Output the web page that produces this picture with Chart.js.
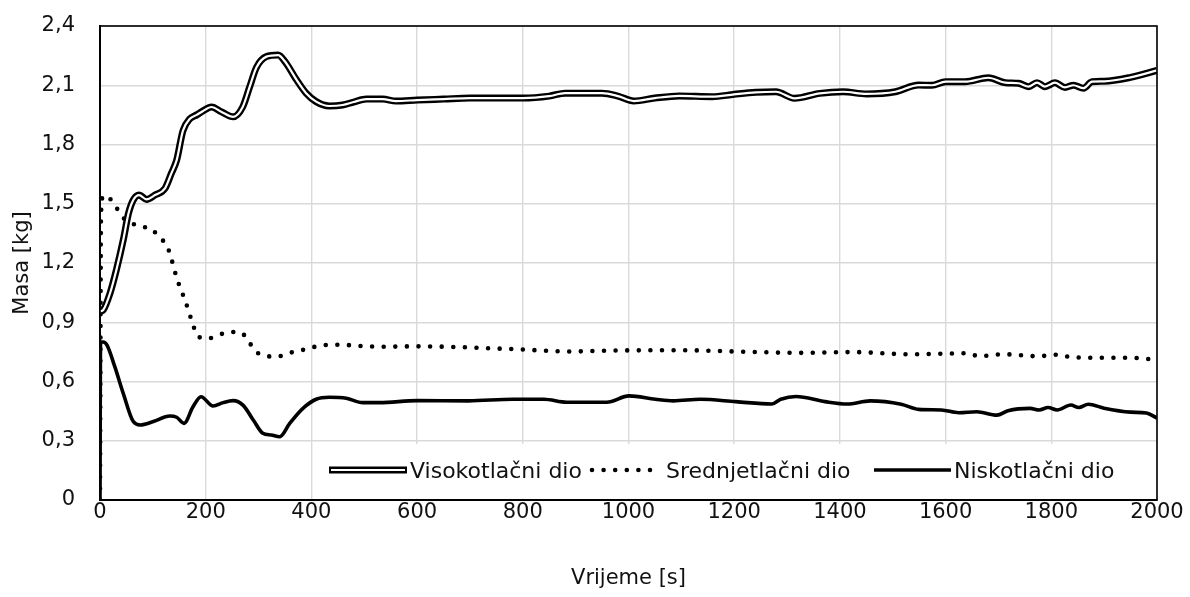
<!DOCTYPE html>
<html><head><meta charset="utf-8">
<script src="https://cdn.jsdelivr.net/npm/chart.js@4"></script>
<style>html,body{margin:0;padding:0;background:#fff;} #wrap{width:1190px;height:597px;}</style>
</head><body><div id="wrap"><canvas id="c" width="1190" height="597"></canvas></div>
<script>
// ---- data ----
const timeVisoko = [0, 6, 19, 31, 44, 54, 63, 74, 88, 104, 123, 135, 145, 157, 170, 183, 195, 211, 230, 252, 270, 283, 296, 315, 337, 350, 372, 390, 409, 434, 459, 480, 504, 535, 560, 600, 650, 700, 750, 800, 850, 880, 950, 980, 1010, 1050, 1096, 1158, 1200, 1241, 1279, 1314, 1362, 1406, 1450, 1505, 1549, 1574, 1600, 1637, 1681, 1713, 1738, 1757, 1773, 1788, 1807, 1826, 1842, 1861, 1877, 1900, 1950, 2000];
const visoko = [0.955, 0.962, 1.047, 1.165, 1.316, 1.452, 1.519, 1.544, 1.522, 1.544, 1.578, 1.654, 1.72, 1.87, 1.93, 1.95, 1.97, 1.99, 1.965, 1.94, 1.99, 2.09, 2.19, 2.245, 2.253, 2.22, 2.127, 2.06, 2.017, 1.995, 2.0, 2.015, 2.03, 2.03, 2.02, 2.025, 2.03, 2.035, 2.035, 2.035, 2.045, 2.06, 2.06, 2.045, 2.02, 2.035, 2.046, 2.042, 2.054, 2.064, 2.067, 2.034, 2.059, 2.067, 2.056, 2.067, 2.101, 2.10, 2.118, 2.118, 2.138, 2.113, 2.11, 2.093, 2.113, 2.093, 2.113, 2.089, 2.10, 2.085, 2.118, 2.12, 2.14, 2.175];

const timeSrednje = [0, 2, 6, 16, 30, 42, 58, 79, 98, 112, 126, 134, 140, 146, 154, 162, 169, 176, 184, 203, 224, 246, 267, 282, 294, 314, 335, 357, 378, 399, 421, 443, 465, 487, 531, 600, 781, 891, 975, 1110, 1200, 1330, 1423, 1532, 1642, 1663, 1710, 1773, 1815, 1836, 1900, 1950, 2000];
const srednje = [0, 1.45, 1.54, 1.533, 1.485, 1.434, 1.404, 1.384, 1.371, 1.33, 1.29, 1.232, 1.173, 1.117, 1.06, 1.003, 0.945, 0.888, 0.832, 0.817, 0.835, 0.851, 0.847, 0.80, 0.754, 0.729, 0.726, 0.744, 0.756, 0.771, 0.783, 0.786, 0.785, 0.781, 0.776, 0.778, 0.764, 0.752, 0.757, 0.758, 0.752, 0.745, 0.749, 0.738, 0.743, 0.728, 0.738, 0.728, 0.736, 0.724, 0.72, 0.72, 0.71];

const timeNisko = [0, 1, 6, 13, 28, 44, 63, 76, 101, 132, 145, 159, 176, 191, 214, 233, 252, 271, 290, 308, 324, 340, 359, 384, 409, 434, 466, 497, 529, 600, 697, 781, 840, 883, 959, 1001, 1051, 1085, 1136, 1203, 1271, 1288, 1317, 1372, 1414, 1457, 1516, 1549, 1592, 1625, 1659, 1697, 1718, 1760, 1777, 1794, 1811, 1837, 1852, 1870, 1900, 1950, 1980, 2000];
const nisko = [0, 0.80, 0.80, 0.785, 0.675, 0.54, 0.397, 0.38, 0.397, 0.425, 0.419, 0.388, 0.472, 0.523, 0.476, 0.493, 0.503, 0.479, 0.405, 0.338, 0.329, 0.32, 0.388, 0.464, 0.51, 0.52, 0.515, 0.493, 0.493, 0.503, 0.502, 0.51, 0.51, 0.495, 0.495, 0.527, 0.51, 0.502, 0.51, 0.498, 0.486, 0.51, 0.524, 0.498, 0.486, 0.502, 0.485, 0.459, 0.456, 0.442, 0.447, 0.43, 0.452, 0.464, 0.456, 0.468, 0.456, 0.481, 0.468, 0.485, 0.465, 0.445, 0.44, 0.415];

const seriesNames = ['Visokotlačni dio', 'Srednjetlačni dio', 'Niskotlačni dio'];
const xTitle = 'Vrijeme [s]';
const yTitle = 'Masa [kg]';
const xMin = 0, xMax = 2000, xStep = 200;
const yMin = 0, yMax = 2.4, yStep = 0.3;

// ---- build ----
function pts(t, v) { return t.map((x, i) => ({ x: x, y: v[i] })); }
const FONT = "'DejaVu Sans', sans-serif";
const TXT = '#111';

const dotDash = [0, 11.6];
const datasets = [
  { label: seriesNames[0] + '_inner', data: pts(timeVisoko, visoko), borderColor: '#fff', borderWidth: 2.2, pointRadius: 0, cubicInterpolationMode: 'monotone' },
  { label: seriesNames[0], data: pts(timeVisoko, visoko), borderColor: '#000', borderWidth: 7, pointRadius: 0, cubicInterpolationMode: 'monotone' },
  { label: seriesNames[1], data: pts(timeSrednje, srednje), borderColor: '#000', borderWidth: 4.6, borderDash: dotDash, borderCapStyle: 'round', pointRadius: 0, cubicInterpolationMode: 'monotone' },
  { label: seriesNames[2], data: pts(timeNisko, nisko), borderColor: '#000', borderWidth: 3.6, pointRadius: 0, cubicInterpolationMode: 'monotone' }
];

const framePlugin = {
  id: 'frame',
  afterDatasetsDraw(chart) {
    const { ctx, chartArea: a } = chart;
    ctx.save();
    ctx.strokeStyle = '#000';
    ctx.lineWidth = 1.6;
    ctx.strokeRect(a.left, a.top, a.right - a.left, a.bottom - a.top);
    ctx.restore();
  }
};

const legendPlugin = {
  id: 'boxLegend',
  afterDraw(chart) {
    const { ctx, chartArea: a } = chart;
    const boxLeft = 315, boxTop = 444;
    ctx.save();
    ctx.fillStyle = '#fff';
    ctx.fillRect(boxLeft, boxTop, a.right - boxLeft - 1, a.bottom - boxTop - 1.5);
    const cy = 470;
    ctx.font = "22px " + FONT;
    ctx.fillStyle = TXT;
    ctx.textBaseline = 'alphabetic';
    const base = 478;
    const ds = chart.data.datasets;
    const items = [
      { s: 329, e: 407, tx: 410, text: seriesNames[0] },
      { s: 592, e: 659, tx: 666, text: seriesNames[1] },
      { s: 874, e: 951, tx: 954, text: seriesNames[2] }
    ];
    ctx.lineCap = 'butt';
    ctx.beginPath(); ctx.moveTo(items[0].s, cy); ctx.lineTo(items[0].e, cy);
    ctx.strokeStyle = ds[1].borderColor; ctx.lineWidth = ds[1].borderWidth; ctx.stroke();
    ctx.beginPath(); ctx.moveTo(items[0].s + 2, cy); ctx.lineTo(items[0].e - 2, cy);
    ctx.strokeStyle = ds[0].borderColor; ctx.lineWidth = ds[0].borderWidth; ctx.stroke();
    ctx.beginPath(); ctx.moveTo(items[1].s, cy); ctx.lineTo(items[1].e, cy);
    ctx.setLineDash(ds[2].borderDash); ctx.lineCap = 'round';
    ctx.strokeStyle = ds[2].borderColor; ctx.lineWidth = ds[2].borderWidth; ctx.stroke();
    ctx.setLineDash([]); ctx.lineCap = 'butt';
    ctx.beginPath(); ctx.moveTo(items[2].s, cy); ctx.lineTo(items[2].e, cy);
    ctx.strokeStyle = ds[3].borderColor; ctx.lineWidth = ds[3].borderWidth; ctx.stroke();
    ctx.textAlign = 'left';
    items.forEach(it => ctx.fillText(it.text, it.tx, base));
    ctx.restore();
  }
};

new Chart(document.getElementById('c'), {
  type: 'line',
  data: { datasets: datasets },
  options: {
    responsive: false,
    animation: false,
    events: [],
    layout: { padding: { left: 0, top: 26, right: 33, bottom: 0 } },
    plugins: { legend: { display: false }, tooltip: { enabled: false } },
    scales: {
      x: {
        type: 'linear', min: xMin, max: xMax,
        afterFit: s => { s.height = 97; },
        ticks: { stepSize: xStep, padding: 0, color: TXT, font: { family: FONT, size: 21 }, maxRotation: 0,
          callback: v => String(Math.round(v)) },
        grid: { color: '#d9d9d9', lineWidth: 1.4, drawTicks: false },
        border: { display: true, color: '#000', width: 2 },
        title: { display: true, text: xTitle, color: TXT, font: { family: FONT, size: 21 }, padding: { top: 0, bottom: 6 } }
      },
      y: {
        type: 'linear', min: yMin, max: yMax,
        afterFit: s => { s.width = 100; },
        ticks: { stepSize: yStep, padding: 0, color: TXT, font: { family: FONT, size: 21 },
          callback: v => { const r = Math.round(v * 10) / 10; return r === 0 ? '0' : r.toFixed(1).replace('.', ','); } },
        grid: { color: '#d9d9d9', lineWidth: 1.4, drawTicks: true, tickLength: 25, tickColor: 'rgba(0,0,0,0)' },
        border: { display: true, color: '#000', width: 2 },
        title: { display: true, text: yTitle, color: TXT, font: { family: FONT, size: 21 }, padding: { top: 10, bottom: 0 } }
      }
    }
  },
  plugins: [framePlugin, legendPlugin]
});
</script></body></html>
